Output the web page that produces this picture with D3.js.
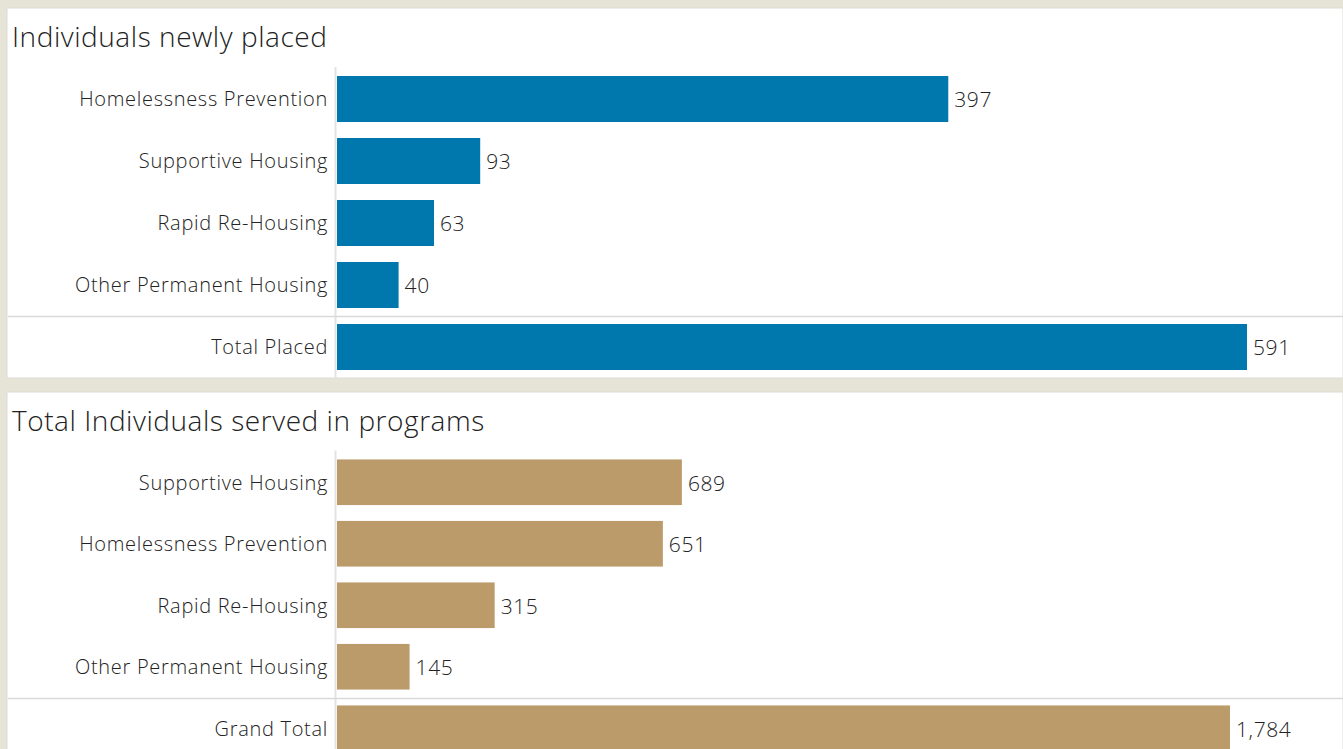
<!DOCTYPE html>
<html>
<head>
<meta charset="utf-8">
<script src="https://cdn.jsdelivr.net/npm/d3@7"></script>
<style>
  body { margin: 0; background: #e6e3d7; }
  svg { display: block; }
</style>
</head>
<body>
<script>
// panel 1
var placedCats = ["Homelessness Prevention", "Supportive Housing", "Rapid Re-Housing", "Other Permanent Housing", "Total Placed"];
var placedVals = [397, 93, 63, 40, 591];
// panel 2
var servedCats = ["Supportive Housing", "Homelessness Prevention", "Rapid Re-Housing", "Other Permanent Housing", "Grand Total"];
var servedVals = [689, 651, 315, 145, 1784];

var W = 1343, H = 749;
var fontFam = "'Open Sans', 'Noto Sans', sans-serif";

var svg = d3.select("body").append("svg").attr("width", W).attr("height", H);

function panel(opt) {
  var g = svg.append("g");
  g.append("rect")
    .attr("x", 7).attr("y", opt.top)
    .attr("width", W - 7).attr("height", opt.bottom - opt.top)
    .attr("fill", "#fff")
    .attr("stroke", "#dcdcd6").attr("stroke-width", 1);

  g.append("text")
    .attr("x", 12).attr("y", opt.top + 39)
    .style("font-family", fontFam)
    .style("font-size", "28px")
    .style("font-weight", 300)
    .style("letter-spacing", "0.55px")
    .attr("fill", "#222")
    .text(opt.title);

  var data = opt.cats.map(function (c, i) { return {cat: c, val: opt.vals[i]}; });

  var y = d3.scaleBand().domain(opt.cats).range([opt.y0, opt.y1])
    .paddingInner(0.258).paddingOuter(0.129);
  var x = d3.scaleLinear().domain([0, d3.max(opt.vals)]).range([337, opt.xMax]);

  // axis divider
  g.append("line")
    .attr("x1", 335.5).attr("x2", 335.5)
    .attr("y1", opt.y0 - 1).attr("y2", opt.bottom)
    .attr("stroke", "#e3e3e3").attr("stroke-width", 2);

  // separator above total row
  var sepY = Math.round(y(opt.cats[4]) - y.step() * y.paddingInner() / 2) + 0.5;
  g.append("line")
    .attr("x1", 8).attr("x2", W)
    .attr("y1", sepY).attr("y2", sepY)
    .attr("stroke", "#d9d9d9").attr("stroke-width", 1.5);

  g.selectAll("rect.bar").data(data).enter().append("rect")
    .attr("class", "bar")
    .attr("x", x(0))
    .attr("y", function (d) { return y(d.cat); })
    .attr("width", function (d) { return x(d.val) - x(0); })
    .attr("height", y.bandwidth())
    .attr("fill", opt.color);

  var yAxis = d3.axisLeft(y).tickSize(0).tickPadding(0);
  var ax = g.append("g").attr("transform", "translate(328,1)").call(yAxis);
  ax.select(".domain").remove();
  ax.selectAll("text")
    .style("font-family", fontFam)
    .style("font-size", "20px")
    .style("font-weight", 300)
    .style("letter-spacing", "0.7px")
    .attr("fill", "#222");

  g.selectAll("text.val").data(data).enter().append("text")
    .attr("class", "val")
    .attr("x", function (d) { return x(d.val) + 6; })
    .attr("y", function (d) { return y(d.cat) + y.bandwidth() / 2 + 1; })
    .attr("dy", "0.35em")
    .style("font-family", fontFam)
    .style("font-size", "21px")
    .style("font-weight", 300)
    .style("letter-spacing", "0.6px")
    .attr("fill", "#222")
    .text(function (d) { return d3.format(",")(d.val); });
}

panel({top: 8, bottom: 378, title: "Individuals newly placed", cats: placedCats, vals: placedVals,
  y0: 68, y1: 378, xMax: 1247, color: "#0078ae"});
panel({top: 392, bottom: 760, title: "Total Individuals served in programs", cats: servedCats, vals: servedVals,
  y0: 451.5, y1: 759, xMax: 1230, color: "#bc9b6a"});
</script>
</body>
</html>
